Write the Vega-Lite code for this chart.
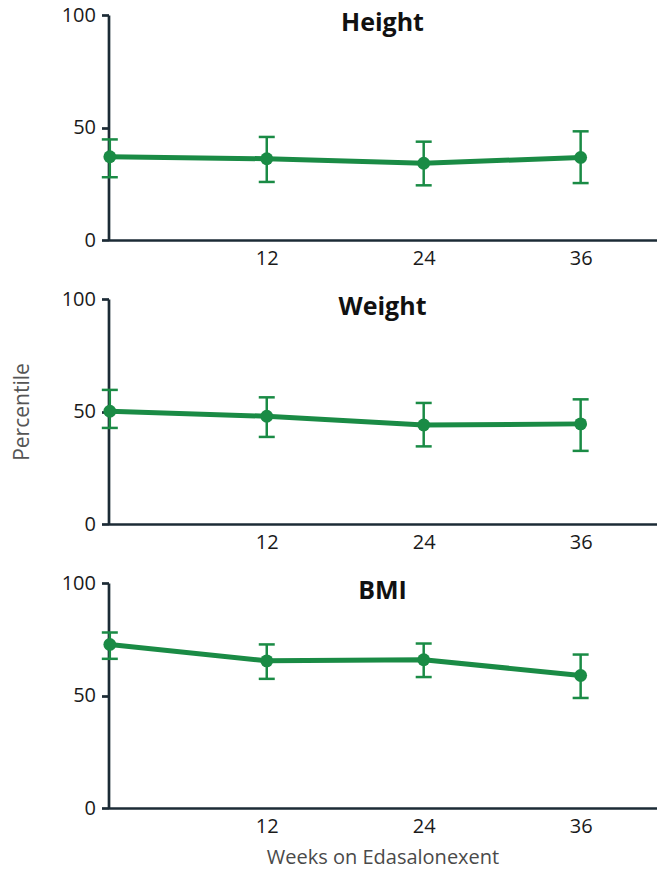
{
  "$schema": "https://vega.github.io/schema/vega-lite/v6.json",
  "background": "white",
  "padding": {"left": 11.5, "top": 5, "right": 3, "bottom": 3},
  "bounds": "flush",
  "spacing": 59,
  "config": {
    "font": "Open Sans",
    "view": {"stroke": null},
    "axis": {
      "domainColor": "#1c2b36", "domainWidth": 2.7,
      "tickColor": "#1c2b36", "tickWidth": 2.7,
      "labelFont": "Open Sans", "labelFontSize": 20, "labelColor": "#1a1a1a",
      "grid": false,
      "titleFont": "Open Sans", "titleFontWeight": "normal", "titleColor": "#4a4a4a", "titleFontSize": 20
    },
    "title": {"font": "Open Sans", "fontSize": 25, "fontWeight": "bold", "color": "#111", "anchor": "middle"}
  },
  "datasets": {
    "growth": [
      {"measure": "Height", "week": 0, "value": 37.0, "lo": 27.9, "hi": 44.7},
      {"measure": "Height", "week": 12, "value": 36.1, "lo": 25.8, "hi": 45.8},
      {"measure": "Height", "week": 24, "value": 34.1, "lo": 24.3, "hi": 43.7},
      {"measure": "Height", "week": 36, "value": 36.7, "lo": 25.3, "hi": 48.3},
      {"measure": "Weight", "week": 0, "value": 50.1, "lo": 42.7, "hi": 59.6},
      {"measure": "Weight", "week": 12, "value": 47.9, "lo": 38.7, "hi": 56.3},
      {"measure": "Weight", "week": 24, "value": 44.0, "lo": 34.5, "hi": 53.8},
      {"measure": "Weight", "week": 36, "value": 44.5, "lo": 32.5, "hi": 55.4},
      {"measure": "BMI", "week": 0, "value": 72.7, "lo": 66.3, "hi": 78.0},
      {"measure": "BMI", "week": 12, "value": 65.4, "lo": 57.4, "hi": 72.7},
      {"measure": "BMI", "week": 24, "value": 65.9, "lo": 58.2, "hi": 73.1},
      {"measure": "BMI", "week": 36, "value": 58.9, "lo": 48.9, "hi": 68.2}
    ]
  },
  "vconcat": [
    {
      "title": {"text": "Height", "offset": -31, "baseline": "top"},
      "width": 548, "height": 225,
      "data": {"name": "growth"},
      "transform": [{"filter": "datum.measure === 'Height'"}],
      "encoding": {
        "x": {"field": "week", "type": "quantitative", "scale": {"domain": [-0.1, 41.8], "nice": false, "zero": false},
              "axis": {"values": [12, 24, 36], "ticks": false, "title": null, "labelPadding": 8}}
      },
      "layer": [
        {"mark": {"type": "rule", "color": "#1a8b45", "strokeWidth": 2.5},
         "encoding": {"y": {"field": "lo", "type": "quantitative", "scale": {"domain": [0, 100], "nice": false}, "axis": {"values": [0, 50, 100], "tickSize": 7, "labelPadding": 6, "title": null}}, "y2": {"field": "hi"}}},
        {"mark": {"type": "tick", "orient": "horizontal", "color": "#1a8b45", "size": 16, "thickness": 2.5, "opacity": 1},
         "encoding": {"y": {"field": "lo", "type": "quantitative", "axis": {"title": null}}}},
        {"mark": {"type": "tick", "orient": "horizontal", "color": "#1a8b45", "size": 16, "thickness": 2.5, "opacity": 1},
         "encoding": {"y": {"field": "hi", "type": "quantitative", "axis": {"title": null}}}},
        {"mark": {"type": "line", "color": "#1a8b45", "strokeWidth": 5},
         "encoding": {"y": {"field": "value", "type": "quantitative", "axis": {"title": null}}}},
        {"mark": {"type": "point", "filled": true, "size": 165, "opacity": 1, "color": "#1a8b45"},
         "encoding": {"y": {"field": "value", "type": "quantitative", "axis": {"title": null}}}}
      ]
    },
    {
      "title": {"text": "Weight", "offset": -31, "baseline": "top"},
      "width": 548, "height": 225,
      "data": {"name": "growth"},
      "transform": [{"filter": "datum.measure === 'Weight'"}],
      "encoding": {
        "x": {"field": "week", "type": "quantitative", "scale": {"domain": [-0.1, 41.8], "nice": false, "zero": false},
              "axis": {"values": [12, 24, 36], "ticks": false, "title": null, "labelPadding": 8}}
      },
      "layer": [
        {"mark": {"type": "rule", "color": "#1a8b45", "strokeWidth": 2.5},
         "encoding": {"y": {"field": "lo", "type": "quantitative", "scale": {"domain": [0, 100], "nice": false}, "axis": {"values": [0, 50, 100], "tickSize": 7, "labelPadding": 6, "title": "Percentile", "titlePadding": 28.5, "titleFontSize": 21, "titleColor": "#555"}}, "y2": {"field": "hi"}}},
        {"mark": {"type": "tick", "orient": "horizontal", "color": "#1a8b45", "size": 16, "thickness": 2.5, "opacity": 1},
         "encoding": {"y": {"field": "lo", "type": "quantitative", "axis": {"title": "Percentile"}}}},
        {"mark": {"type": "tick", "orient": "horizontal", "color": "#1a8b45", "size": 16, "thickness": 2.5, "opacity": 1},
         "encoding": {"y": {"field": "hi", "type": "quantitative", "axis": {"title": "Percentile"}}}},
        {"mark": {"type": "line", "color": "#1a8b45", "strokeWidth": 5},
         "encoding": {"y": {"field": "value", "type": "quantitative", "axis": {"title": "Percentile"}}}},
        {"mark": {"type": "point", "filled": true, "size": 165, "opacity": 1, "color": "#1a8b45"},
         "encoding": {"y": {"field": "value", "type": "quantitative", "axis": {"title": "Percentile"}}}}
      ]
    },
    {
      "title": {"text": "BMI", "offset": -31, "baseline": "top"},
      "width": 548, "height": 225,
      "data": {"name": "growth"},
      "transform": [{"filter": "datum.measure === 'BMI'"}],
      "encoding": {
        "x": {"field": "week", "type": "quantitative", "scale": {"domain": [-0.1, 41.8], "nice": false, "zero": false},
              "axis": {"values": [12, 24, 36], "ticks": false, "title": "Weeks on Edasalonexent", "labelPadding": 8, "titlePadding": 11}}
      },
      "layer": [
        {"mark": {"type": "rule", "color": "#1a8b45", "strokeWidth": 2.5},
         "encoding": {"y": {"field": "lo", "type": "quantitative", "scale": {"domain": [0, 100], "nice": false}, "axis": {"values": [0, 50, 100], "tickSize": 7, "labelPadding": 6, "title": null}}, "y2": {"field": "hi"}}},
        {"mark": {"type": "tick", "orient": "horizontal", "color": "#1a8b45", "size": 16, "thickness": 2.5, "opacity": 1},
         "encoding": {"y": {"field": "lo", "type": "quantitative", "axis": {"title": null}}}},
        {"mark": {"type": "tick", "orient": "horizontal", "color": "#1a8b45", "size": 16, "thickness": 2.5, "opacity": 1},
         "encoding": {"y": {"field": "hi", "type": "quantitative", "axis": {"title": null}}}},
        {"mark": {"type": "line", "color": "#1a8b45", "strokeWidth": 5},
         "encoding": {"y": {"field": "value", "type": "quantitative", "axis": {"title": null}}}},
        {"mark": {"type": "point", "filled": true, "size": 165, "opacity": 1, "color": "#1a8b45"},
         "encoding": {"y": {"field": "value", "type": "quantitative", "axis": {"title": null}}}}
      ]
    }
  ]
}
